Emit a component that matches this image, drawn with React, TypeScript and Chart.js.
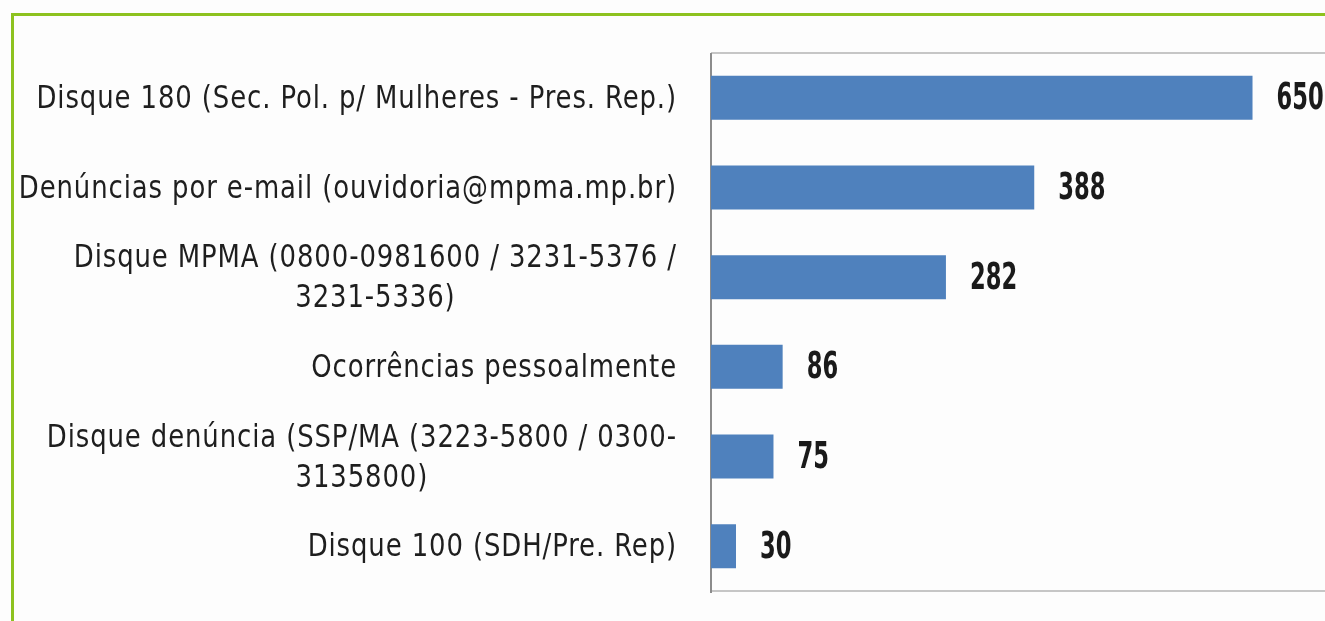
import React, { useEffect, useRef } from "react";
import { Chart, registerables } from "chart.js";

Chart.register(...registerables);

const categories: string[][] = [
  ["Disque 180 (Sec. Pol. p/ Mulheres - Pres. Rep.)"],
  ["Denúncias por e-mail (ouvidoria@mpma.mp.br)"],
  ["Disque MPMA (0800-0981600 / 3231-5376 /", "3231-5336)"],
  ["Ocorrências pessoalmente"],
  ["Disque denúncia (SSP/MA (3223-5800 / 0300-", "3135800)"],
  ["Disque 100 (SDH/Pre. Rep)"],
];
const values: number[] = [650, 388, 282, 86, 75, 30];
const axisMax = 737;

const FONT = '"DejaVu Sans Condensed", "Liberation Sans", sans-serif';

const decorPlugin = {
  id: "decor",
  beforeDatasetsDraw(chart: any) {
    const { ctx, chartArea } = chart;
    ctx.save();
    ctx.strokeStyle = "#c6c6c6";
    ctx.lineWidth = 2;
    ctx.beginPath();
    ctx.moveTo(chartArea.left, chartArea.top);
    ctx.lineTo(chartArea.right, chartArea.top);
    ctx.moveTo(chartArea.left, chartArea.bottom);
    ctx.lineTo(chartArea.right, chartArea.bottom);
    ctx.stroke();
    ctx.strokeStyle = "#8c8c8c";
    ctx.beginPath();
    ctx.moveTo(chartArea.left, chartArea.top);
    ctx.lineTo(chartArea.left, chartArea.bottom + 2);
    ctx.stroke();
    ctx.restore();
  },
  afterDatasetsDraw(chart: any) {
    const { ctx } = chart;
    const yScale = chart.scales.y;
    const meta = chart.getDatasetMeta(0);
    ctx.save();
    // category labels
    ctx.fillStyle = "#1e1e1e";
    ctx.font = `32px ${FONT}`;
    (ctx as any).letterSpacing = "1px";
    ctx.textBaseline = "middle";
    const sx = 0.9;
    const rightEdge = 677;
    const lineH = 40;
    categories.forEach((lines, i) => {
      const cy = yScale.getPixelForValue(i);
      const widths = lines.map((l) => ctx.measureText(l).width * sx);
      const maxW = Math.max(...widths);
      const cx = rightEdge - maxW / 2;
      ctx.textAlign = "center";
      lines.forEach((l, j) => {
        const y = cy + (j - (lines.length - 1) / 2) * lineH + 2;
        ctx.save();
        ctx.translate(cx, y);
        ctx.scale(sx, 1);
        ctx.fillText(l, 0, 0);
        ctx.restore();
      });
    });
    // value labels
    (ctx as any).letterSpacing = "0px";
    ctx.font = `bold 37px ${FONT}`;
    ctx.textAlign = "left";
    ctx.fillStyle = "#1a1a1a";
    const vx = 0.68;
    meta.data.forEach((el: any, i: number) => {
      ctx.save();
      ctx.translate(el.x + 24, el.y + 2);
      ctx.scale(vx, 1);
      ctx.fillText(String(values[i]), 0, 0);
      ctx.restore();
    });
    ctx.restore();
  },
};

export default function App() {
  const ref = useRef<HTMLCanvasElement | null>(null);
  useEffect(() => {
    if (!ref.current) return;
    const chart = new Chart(ref.current, {
      type: "bar",
      data: {
        labels: categories.map((c) => c.join(" ")),
        datasets: [
          {
            data: values,
            backgroundColor: "#4f81bd",
            borderColor: "#4f81bd",
            borderWidth: 0,
            categoryPercentage: 1,
            barPercentage: 0.49,
          },
        ],
      },
      options: {
        indexAxis: "y",
        animation: false,
        responsive: false,
        maintainAspectRatio: false,
        layout: { padding: { top: 53, bottom: 30, left: 0, right: 0 } },
        plugins: { legend: { display: false }, tooltip: { enabled: false } },
        scales: {
          x: { display: false, min: 0, max: axisMax },
          y: {
            display: true,
            grid: { display: false, drawTicks: false },
            border: { display: false },
            ticks: { display: false },
            afterFit: (scale: any) => {
              scale.width = 711;
            },
          },
        },
      },
      plugins: [decorPlugin],
    });
    return () => chart.destroy();
  }, []);
  return (
    <div style={{ position: "fixed", left: 0, top: 0, width: 1325, height: 621, overflow: "hidden", background: "#fdfdfd" }}>
      <div
        style={{
          position: "absolute",
          left: 11,
          top: 13,
          width: 1400,
          height: 700,
          borderLeft: "3px solid #8dc21f",
          borderTop: "3px solid #8dc21f",
          boxSizing: "border-box",
        }}
      />
      <canvas ref={ref} width={1325} height={621} style={{ position: "absolute", left: 0, top: 0, width: 1325, height: 621 }} />
    </div>
  );
}
